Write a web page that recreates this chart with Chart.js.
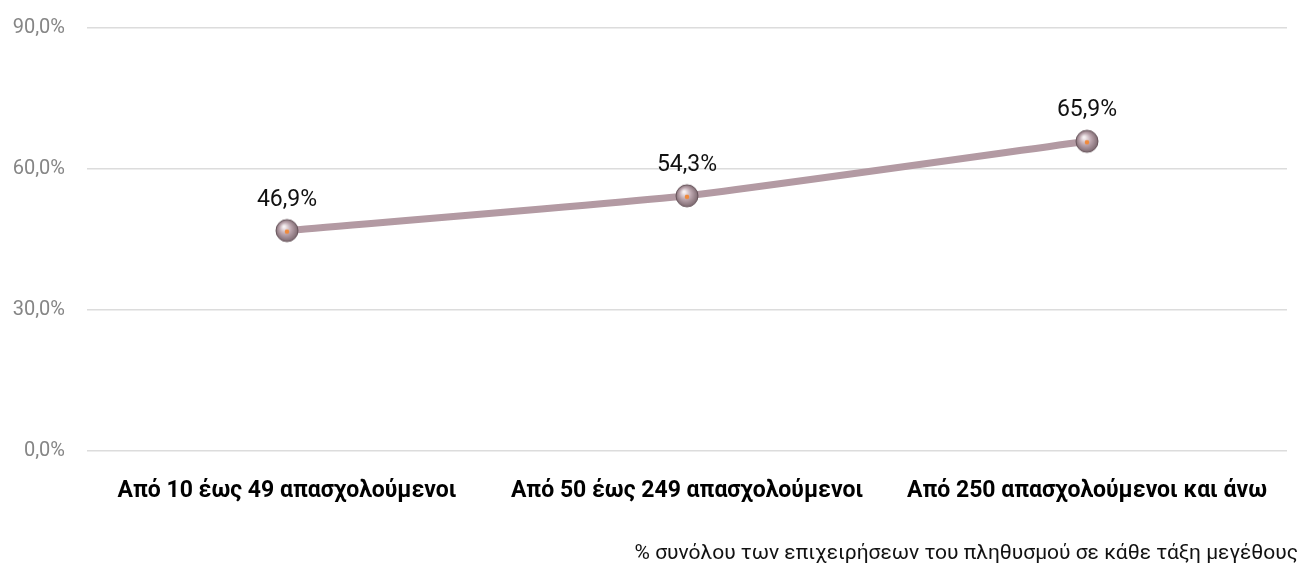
<!DOCTYPE html>
<html>
<head>
<meta charset="utf-8">
<script src="https://cdn.jsdelivr.net/npm/chart.js@4/dist/chart.umd.min.js"></script>
<style>
  body { margin: 0; background: #fff; }
  #wrap { width: 1306px; height: 563px; }
</style>
</head>
<body>
<div id="wrap"><canvas id="lineChart" width="1306" height="563"></canvas></div>
<script>
const categories = ['Από 10 έως 49 απασχολούμενοι', 'Από 50 έως 249 απασχολούμενοι', 'Από 250 απασχολούμενοι και άνω'];
const shares = [46.9, 54.3, 65.9];
const yTicks = [0, 30, 60, 90];
const footnote = '% συνόλου των επιχειρήσεων του πληθυσμού σε κάθε τάξη μεγέθους';

const FONT = 'Roboto, "DejaVu Sans", sans-serif';
const fmt = v => v.toFixed(1).replace('.', ',') + '%';

// little shaded ball for the markers
function ball() {
  const c = document.createElement('canvas');
  c.width = 26; c.height = 26;
  const g = c.getContext('2d');
  const grad = g.createRadialGradient(10, 9, 1, 13, 13, 12);
  grad.addColorStop(0, '#f6f0f2');
  grad.addColorStop(0.45, '#bba5ad');
  grad.addColorStop(1, '#756168');
  g.beginPath();
  g.arc(13, 13, 11, 0, Math.PI * 2);
  g.fillStyle = grad;
  g.fill();
  g.lineWidth = 1;
  g.strokeStyle = '#66535a';
  g.stroke();
  g.beginPath();
  g.arc(13, 14, 2.3, 0, Math.PI * 2);
  g.fillStyle = '#f08a3c';
  g.fill();
  return c;
}

const valueLabels = {
  id: 'valueLabels',
  afterDatasetsDraw(chart) {
    const ctx = chart.ctx;
    const meta = chart.getDatasetMeta(0);
    ctx.save();
    ctx.font = '23px ' + FONT;
    ctx.fillStyle = '#111';
    ctx.textAlign = 'center';
    ctx.textBaseline = 'alphabetic';
    meta.data.forEach((pt, i) => {
      ctx.fillText(fmt(shares[i]), pt.x, pt.y - 25);
    });
    // footnote, right aligned under the plot
    ctx.font = '21px ' + FONT;
    ctx.textAlign = 'right';
    ctx.fillText(footnote, chart.width - 8, chart.height - 4);
    ctx.restore();
  }
};

const ctx = document.getElementById('lineChart').getContext('2d');

new Chart(ctx, {
  type: 'line',
  data: {
    labels: categories,
    datasets: [{
      data: shares,
      borderColor: '#b39aa3',
      borderWidth: 7,
      pointStyle: ball(),
      pointRadius: 12,
      pointHoverRadius: 12,
      tension: 0.15,
      fill: false
    }]
  },
  options: {
    responsive: false,
    animation: false,
    layout: { padding: { left: 0, right: 18, top: 28, bottom: 0 } },
    plugins: {
      legend: { display: false },
      tooltip: { enabled: false }
    },
    scales: {
      x: {
        offset: true,
        grid: { display: false },
        border: { display: false },
        afterFit: axis => { axis.height = 112; },
        ticks: {
          color: '#000',
          padding: 18,
          maxRotation: 0,
          font: { family: FONT, size: 23, weight: 'bold' }
        }
      },
      y: {
        min: 0,
        max: 90,
        afterBuildTicks: axis => { axis.ticks = yTicks.map(v => ({ value: v })); },
        afterFit: axis => { axis.width = 87; axis.paddingTop = 0; axis.paddingBottom = 0; },
        grid: { color: '#dcdcdc', lineWidth: 1.5, drawTicks: false },
        border: { display: false },
        ticks: {
          color: '#858585',
          padding: 22,
          callback: v => fmt(v),
          font: { family: FONT, size: 20 }
        }
      }
    }
  },
  plugins: [valueLabels]
});
</script>
</body>
</html>
